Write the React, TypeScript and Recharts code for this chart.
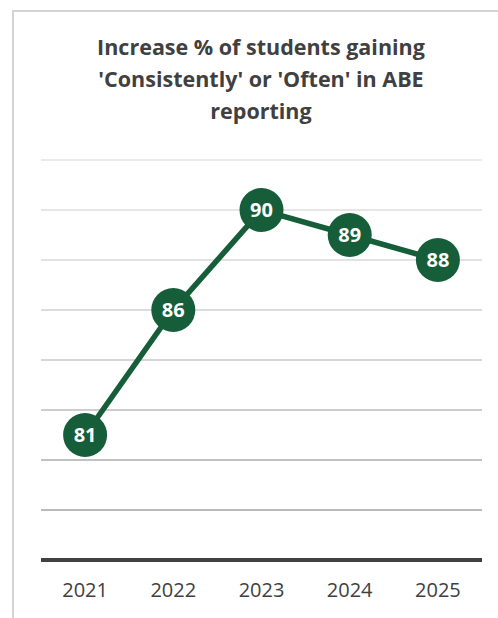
import React from "react";
import { LineChart, Line, XAxis, YAxis, ReferenceLine, LabelList } from "recharts";

const years = ["2021", "2022", "2023", "2024", "2025"];
const values = [81, 86, 90, 89, 88];
const gridValues = [92, 90, 88, 86, 84, 82, 80, 78];

const gridColors = ["#e3e3e3", "#dedede", "#d8d8d8", "#d0d0d0", "#c8c8c8", "#bdbdbd", "#adadad", "#a3a3a3"];

const data = years.map((y, i) => ({ year: y, value: values[i] }));

const GREEN = "#155e39";
const FONT = "'Open Sans', 'Noto Sans', sans-serif";

const Dot = (props: any) => {
  const { cx, cy } = props;
  return <circle cx={cx} cy={cy} r={22} fill={GREEN} />;
};

const Lbl = (props: any) => {
  const { x, y, value } = props;
  return (
    <text x={x} y={y} dy={7} textAnchor="middle" fill="#ffffff" fontSize={20} fontWeight={700} fontFamily={FONT}>
      {value}
    </text>
  );
};

export default function App() {
  return (
    <div style={{ position: "absolute", left: 0, top: 0, width: 498, height: 618, background: "#fff", fontFamily: FONT }}>
      <div style={{ position: "absolute", left: 12, top: 10, right: 0, bottom: 0, borderLeft: "2px solid #d4d4d4", borderTop: "2px solid #d4d4d4" }} />
      <div
        style={{
          position: "absolute",
          left: 12,
          width: 498,
          top: 31,
          textAlign: "center",
          fontSize: 21.5,
          fontWeight: 700,
          lineHeight: "32px",
          color: "#404040",
        }}
      >
        Increase % of students gaining
        <br />
        'Consistently' or 'Often' in ABE
        <br />
        reporting
      </div>
      <div style={{ position: "absolute", left: 0, top: 0 }}>
        <LineChart width={498} height={618} data={data} margin={{ top: 160, right: 16, bottom: 14, left: 41 }}>
          <YAxis hide domain={[76, 92]} ticks={[76, 78, 80, 82, 84, 86, 88, 90, 92]} />
          {gridValues.map((g, i) => (
            <ReferenceLine key={g} y={g} stroke={gridColors[i]} strokeWidth={1.5} ifOverflow="extendDomain" />
          ))}
          <XAxis
            dataKey="year"
            height={44}
            padding={{ left: 0, right: 0 }}
            axisLine={{ stroke: "#404040", strokeWidth: 4 }}
            tickLine={false}
            tick={{ fill: "#404040", fontSize: 20, fontFamily: FONT }}
            tickMargin={17}
            interval={0}
            scale="band"
          />
          <Line
            type="linear"
            dataKey="value"
            stroke={GREEN}
            strokeWidth={5.5}
            dot={<Dot />}
            activeDot={false}
            isAnimationActive={false}
          >
            <LabelList dataKey="value" content={<Lbl />} />
          </Line>
        </LineChart>
      </div>
    </div>
  );
}
